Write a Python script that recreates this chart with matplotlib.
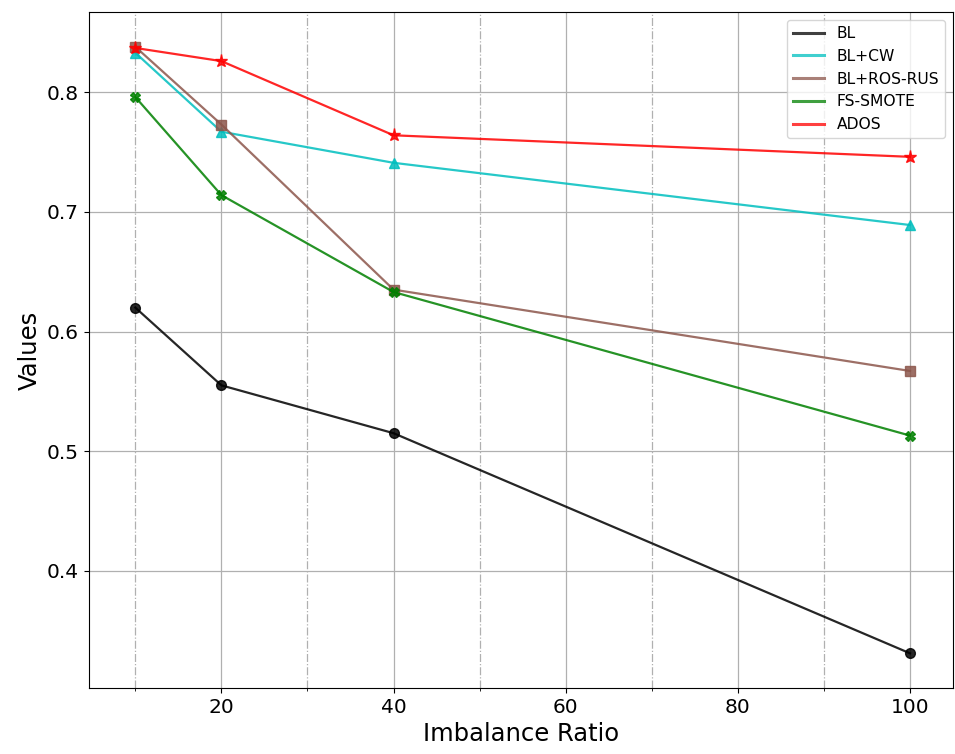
import matplotlib
matplotlib.use("Agg")
import matplotlib.pyplot as plt
from matplotlib.ticker import MultipleLocator
from matplotlib.lines import Line2D

ratios = [10, 20, 40, 100]
bl = [0.620, 0.555, 0.515, 0.331]
bl_cw = [0.833, 0.767, 0.741, 0.689]
bl_ros_rus = [0.838, 0.773, 0.635, 0.567]
fs_smote = [0.796, 0.714, 0.633, 0.513]
ados = [0.837, 0.826, 0.764, 0.746]

labels = ["BL", "BL+CW", "BL+ROS-RUS", "FS-SMOTE", "ADOS"]
series = [bl, bl_cw, bl_ros_rus, fs_smote, ados]
colors = ["k", "c", "tab:brown", "g", "r"]
markers = ["o", "^", "s", "X", "*"]
msizes = [7, 7, 7, 7, 9.5]

fig = plt.figure(figsize=(9.55, 7.54), dpi=100)
ax = fig.add_axes([0.093, 0.0875, 0.905, 0.8965])

handles = []
for vals, lab, col, mk, ms in zip(series, labels, colors, markers, msizes):
    ax.plot(ratios, vals, color=col, marker=mk, alpha=0.85,
            linewidth=1.6, markersize=ms)
    handles.append(Line2D([0], [0], color=col, alpha=0.75, linewidth=2.2, label=lab))

ax.set_xlim(4.6, 105)
ax.set_ylim(0.302, 0.867)
ax.xaxis.set_major_locator(MultipleLocator(20))
ax.xaxis.set_minor_locator(MultipleLocator(20, offset=10))
ax.yaxis.set_major_locator(MultipleLocator(0.1))
ax.grid(True, which="major", color="#b0b0b0", linewidth=0.9)
ax.grid(True, which="minor", axis="x", color="#b0b0b0", linestyle="-.", linewidth=0.9)
ax.set_axisbelow(True)
ax.tick_params(labelsize=14.5)
ax.set_xlabel("Imbalance Ratio", fontsize=17.5)
ax.set_ylabel("Values", fontsize=17.5)
ax.legend(handles=handles, loc="upper right", fontsize=11.2)

fig.savefig("out.png", dpi=100)
